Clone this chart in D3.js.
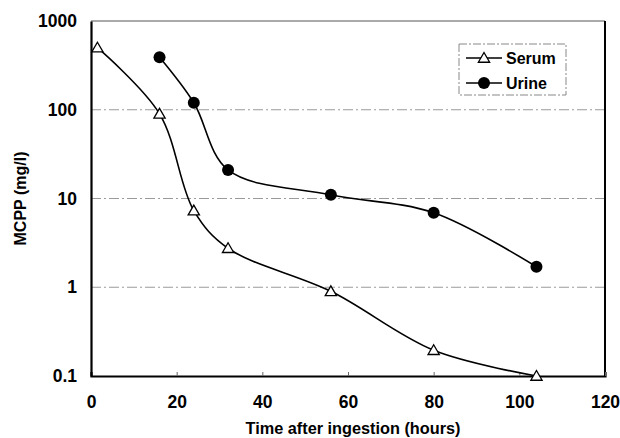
<!DOCTYPE html>
<html>
<head>
<meta charset="utf-8">
<script src="https://cdn.jsdelivr.net/npm/d3@7"></script>
<style>
  body { margin: 0; background: #fff; }
  text { font-family: "Liberation Sans", Arial, sans-serif; font-weight: bold; }
</style>
</head>
<body>
<div class="canvas"></div>
<script>
// data
const serumHours = [1.5, 16, 24, 32, 56, 80, 104];
const serumValues = [500, 90, 7.3, 2.75, 0.9, 0.195, 0.1];
const urineHours = [16, 24, 32, 56, 80, 104];
const urineValues = [390, 120, 21, 11, 6.9, 1.7];
const xTicks = [0, 20, 40, 60, 80, 100, 120];
const yTicks = [0.1, 1, 10, 100, 1000];
const gridValues = [1, 10, 100];

const margin = { top: 21, right: 15, bottom: 62, left: 91 };
const width = 620 - margin.left - margin.right;
const height = 438 - margin.top - margin.bottom;

const x = d3.scaleLinear().domain([0, 120]).range([0, width]);
const y = d3.scaleLog().domain([0.1, 1000]).range([height, 0]);

const svg = d3.select(".canvas")
  .append("svg")
    .attr("width", 620)
    .attr("height", 438)
  .append("g")
    .attr("transform", `translate(${margin.left}, ${margin.top})`);

// grid lines (dash-dot grey)
svg.selectAll(".grid")
  .data(gridValues)
  .join("line")
    .attr("x1", 0).attr("x2", width)
    .attr("y1", d => y(d)).attr("y2", d => y(d))
    .attr("stroke", "#9a9a9a")
    .attr("stroke-width", 1)
    .attr("stroke-dasharray", "10,3,2,3");

// frame: top & right
svg.append("line")
  .attr("x1", 0).attr("x2", width).attr("y1", 0).attr("y2", 0)
  .attr("stroke", "#555").attr("stroke-width", 1);
svg.append("line")
  .attr("x1", width).attr("x2", width).attr("y1", 0).attr("y2", height)
  .attr("stroke", "#000").attr("stroke-width", 2);

// axes
const xAxis = svg.append("g")
  .attr("transform", `translate(0,${height})`)
  .call(d3.axisBottom(x).tickValues(xTicks).tickSize(-4).tickPadding(20).tickFormat(d3.format("d")));
const yAxis = svg.append("g")
  .call(d3.axisLeft(y).tickValues(yTicks).tickSize(0).tickPadding(14)
    .tickFormat(d => d < 1 ? "0.1" : d3.format("d")(d)));

[xAxis, yAxis].forEach(a => {
  a.select(".domain").attr("stroke", "#000").attr("stroke-width", 2.2);
  a.selectAll("text").style("font-size", "17.5px").attr("fill", "#000");
  a.selectAll(".tick line").attr("stroke", "#666");
});

// axis titles
svg.append("text")
  .attr("x", width / 2 + 5)
  .attr("y", height + 58)
  .attr("text-anchor", "middle")
  .style("font-size", "16.3px")
  .text("Time after ingestion (hours)");

svg.append("text")
  .attr("transform", `translate(${-65}, ${height / 2}) rotate(-90)`)
  .attr("text-anchor", "middle")
  .style("font-size", "16px")
  .text("MCPP (mg/l)");

// lines
const serum = serumHours.map((h, i) => ({ h, v: serumValues[i] }));
const urine = urineHours.map((h, i) => ({ h, v: urineValues[i] }));

const line = d3.line()
  .x(d => x(d.h))
  .y(d => y(d.v))
  .curve(d3.curveCatmullRom.alpha(0.5));

svg.append("path").datum(serum)
  .attr("fill", "none").attr("stroke", "#000").attr("stroke-width", 1.6)
  .attr("d", line);
svg.append("path").datum(urine)
  .attr("fill", "none").attr("stroke", "#000").attr("stroke-width", 1.6)
  .attr("d", line);

const tri = d3.symbol().type(d3.symbolTriangle).size(55);

svg.selectAll(".serum")
  .data(serum)
  .join("path")
    .attr("transform", d => `translate(${x(d.h)},${y(d.v) + 1})`)
    .attr("d", tri)
    .attr("fill", "#fff").attr("stroke", "#000").attr("stroke-width", 1.3);

svg.selectAll(".urine")
  .data(urine)
  .join("circle")
    .attr("cx", d => x(d.h)).attr("cy", d => y(d.v))
    .attr("r", 6)
    .attr("fill", "#000");

// legend
const lg = svg.append("g").attr("transform", `translate(${459 - margin.left}, ${44 - margin.top})`);
lg.append("rect")
  .attr("width", 107).attr("height", 51)
  .attr("fill", "#fff").attr("stroke", "#888").attr("stroke-width", 1)
  .attr("stroke-dasharray", "8,2,2,2");

const entries = [{ name: "Serum", type: "tri" }, { name: "Urine", type: "dot" }];
entries.forEach((e, i) => {
  const g = lg.append("g").attr("transform", `translate(0, ${14 + i * 25})`);
  g.append("line").attr("x1", 7).attr("x2", 43).attr("y1", 0).attr("y2", 0)
    .attr("stroke", "#000").attr("stroke-width", 1.4);
  if (e.type === "tri") {
    g.append("path").attr("d", tri).attr("transform", "translate(25,1)")
      .attr("fill", "#fff").attr("stroke", "#000").attr("stroke-width", 1.3);
  } else {
    g.append("circle").attr("cx", 25).attr("cy", 0).attr("r", 6).attr("fill", "#000");
  }
  g.append("text").attr("x", 47).attr("y", 6)
    .style("font-size", "16px")
    .text(e.name);
});
</script>
</body>
</html>
